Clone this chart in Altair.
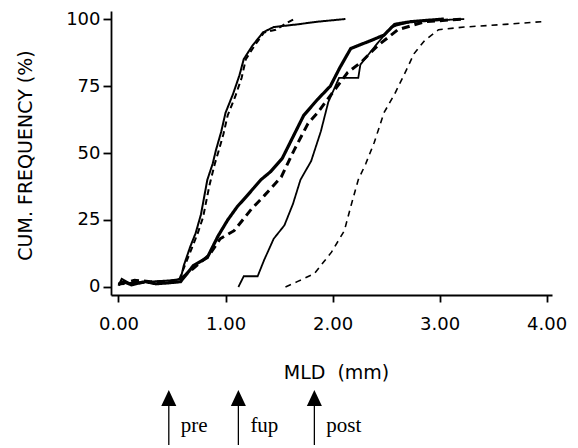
import altair as alt
import pandas as pd

# ---- data (MLD in mm, cumulative frequency in %) ----
pre_solid_x = [0.0, 0.03, 0.1, 0.3, 0.5, 0.58, 0.61, 0.67, 0.72, 0.77, 0.83, 0.88, 0.91, 0.96, 1.0, 1.07, 1.13, 1.17, 1.25, 1.35, 1.45, 1.67, 1.86, 2.12]
pre_solid_y = [0.5, 3, 1.5, 2, 2.5, 3, 8, 15, 20, 27, 40, 46, 51, 58, 65, 72, 79, 85, 90, 95, 97, 98, 99, 100]

pre_dash_x = [0.0, 0.2, 0.45, 0.57, 0.6, 0.63, 0.69, 0.74, 0.79, 0.85, 0.9, 0.93, 0.98, 1.02, 1.09, 1.15, 1.19, 1.27, 1.36, 1.47, 1.55, 1.64]
pre_dash_y = [1, 1.5, 2, 3, 6, 9, 15, 20, 26, 38, 46, 50, 57, 64, 71, 78, 85, 90, 95, 96, 98, 100]

fup_solid_x = [0.0, 0.05, 0.12, 0.25, 0.35, 0.45, 0.58, 0.7, 0.83, 0.93, 1.02, 1.11, 1.2, 1.33, 1.42, 1.53, 1.63, 1.73, 1.86, 1.98, 2.07, 2.17, 2.36, 2.48, 2.58, 2.73, 3.04]
fup_solid_y = [1, 2, 0.8, 2, 1.2, 1.5, 2, 8, 11, 19, 25, 30, 34, 40, 43, 48, 56, 64, 70, 75, 82, 89, 92, 94, 98, 99, 100]

fup_dash_x = [0.0, 0.15, 0.3, 0.55, 0.7, 0.85, 0.95, 1.08, 1.24, 1.36, 1.52, 1.64, 1.77, 1.86, 1.99, 2.14, 2.27, 2.42, 2.61, 2.86, 3.23]
fup_dash_y = [1, 2.5, 2, 2, 7, 12, 18, 21, 29, 34, 41, 51, 61, 65, 72, 80, 84, 90, 96, 99, 100]

post_solid_x = [1.12, 1.17, 1.3, 1.36, 1.45, 1.55, 1.63, 1.70, 1.80, 1.89, 1.96, 2.06, 2.24, 2.26, 2.42, 2.55, 2.73, 3.23]
post_solid_y = [0, 4, 4, 10, 18, 23, 31, 40, 47, 58, 69, 78, 78, 83, 91, 97, 99, 100]

post_dash_x = [1.56, 1.67, 1.83, 1.99, 2.11, 2.17, 2.24, 2.31, 2.39, 2.48, 2.58, 2.69, 2.76, 2.86, 2.99, 3.23, 3.61, 3.95]
post_dash_y = [0, 2, 5, 13, 21, 30, 40, 46, 54, 65, 72, 81, 87, 92, 96, 97, 98, 99]

arrow_labels = ["pre", "fup", "post"]
arrow_x = [0.47, 1.12, 1.83]

x_ticks = [0, 1, 2, 3, 4]
y_ticks = [0, 25, 50, 75, 100]

# ---- tables ----
series_defs = [
    ("pre_solid", pre_solid_x, pre_solid_y, [1, 0], 2.0),
    ("pre_dash", pre_dash_x, pre_dash_y, [6, 4], 2.0),
    ("fup_solid", fup_solid_x, fup_solid_y, [1, 0], 3.2),
    ("fup_dash", fup_dash_x, fup_dash_y, [8, 5], 3.0),
    ("post_solid", post_solid_x, post_solid_y, [1, 0], 1.8),
    ("post_dash", post_dash_x, post_dash_y, [6, 5], 1.6),
]
rows = []
for name, xs, ys, _, _ in series_defs:
    for i, (xv, yv) in enumerate(zip(xs, ys)):
        rows.append({"series": name, "x": xv, "y": yv, "i": i})
df = pd.DataFrame(rows)
arr = pd.DataFrame({"label": arrow_labels, "x": arrow_x})

xscale = alt.Scale(domain=[-0.07, 4.05], nice=False, zero=False)
yscale = alt.Scale(domain=[-2.99, 102.99], nice=False, zero=False)

FONT = "DejaVu Sans"

x_axis = alt.Axis(
    values=x_ticks, format=".2f", title="MLD\u00a0\u00a0(mm)", grid=False,
    domainColor="black", domainWidth=1.8, tickColor="black", tickWidth=1.8, tickSize=7,
    labelFont=FONT, labelFontSize=18, labelColor="black", labelPadding=13,
    titleFont=FONT, titleFontSize=19, titleFontWeight="normal", titleColor="black",
    titleBaseline="middle", titleY=77, titleX=225,
)
y_axis = alt.Axis(
    values=y_ticks, title="CUM. FREQUENCY (%)", grid=False,
    domainColor="black", domainWidth=1.8, tickColor="black", tickWidth=1.8, tickSize=8,
    labelFont=FONT, labelFontSize=18, labelColor="black", labelPadding=3,
    titleFont=FONT, titleFontSize=19, titleFontWeight="normal", titleColor="black",
    titleBaseline="middle", titleX=-86, titleY=144,
)

X = alt.X("x:Q", scale=xscale, axis=x_axis)
Y = alt.Y("y:Q", scale=yscale, axis=y_axis)

layers = []
for name, _, _, dash, w in series_defs:
    layers.append(
        alt.Chart(df).transform_filter(alt.datum.series == name)
        .mark_line(color="black", strokeWidth=w, strokeDash=dash, strokeCap="butt")
        .encode(x=X, y=Y, order="i:Q")
    )

# arrows below the axis (pixel y measured from the plot top)
shafts = alt.Chart(arr).mark_rule(color="black", strokeWidth=1.3).encode(
    x=X, y=alt.value(395), y2=alt.value(460)
)
heads = alt.Chart(arr).mark_point(
    shape="M0,-1L0.94,1L-0.94,1Z", filled=True, color="black", opacity=1, size=256, strokeWidth=0
).encode(x=X, y=alt.value(387))
labels = alt.Chart(arr).mark_text(
    font="Liberation Serif", fontSize=21, align="left", baseline="middle", dx=12, color="black"
).encode(x=X, y=alt.value(415), text="label:N")

chart = alt.layer(*layers, shafts, heads, labels).properties(
    width=441, height=284,
    autosize=alt.AutoSizeParams(type="none"),
    padding={"left": 103, "top": 3, "right": 18, "bottom": 150},
).configure_view(stroke=None)

chart.save("out.html", embed_options={"renderer": "svg", "actions": False})
